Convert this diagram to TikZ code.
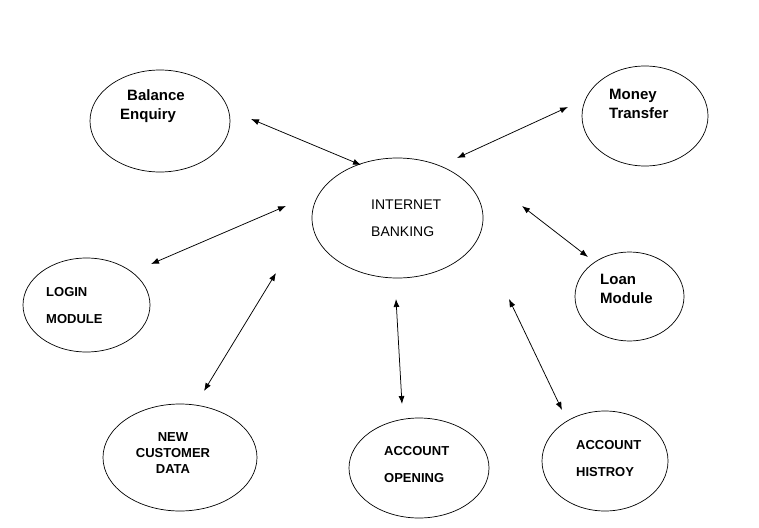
\documentclass[tikz,border=0pt]{standalone}
\usepackage{fontspec}
\setmainfont{Liberation Sans}
\usetikzlibrary{shapes.geometric, arrows.meta}

\begin{document}
\begin{tikzpicture}[x=1pt, y=-1pt,
	bubble/.style={ellipse, draw=black, line width=0.7pt, inner sep=0pt},
	link/.style={black, line width=0.75pt, <->, >={Latex[length=8pt, width=6pt]}},
	bigtxt/.style={anchor=base west, align=left, inner sep=0pt, font=\fontsize{15}{19}\selectfont\bfseries},
	captxt/.style={anchor=base west, align=left, inner sep=0pt, font=\fontsize{13}{27}\selectfont\bfseries}]
	\useasboundingbox (0,0) rectangle (759,527);
	\node[bubble, minimum width=140pt, minimum height=102pt] (balance) at (160,121) {};
	\node[bubble, minimum width=126pt, minimum height=100pt] (money) at (645,116) {};
	\node[bubble, minimum width=171pt, minimum height=120pt] (banking) at (397.5,218) {};
	\node[bubble, minimum width=127pt, minimum height=94pt] (login) at (86.5,305) {};
	\node[bubble, minimum width=109pt, minimum height=89pt] (loan) at (629.5,296.5) {};
	\node[bubble, minimum width=154pt, minimum height=107pt] (newcust) at (180,457.5) {};
	\node[bubble, minimum width=140pt, minimum height=100pt] (opening) at (419,468) {};
	\node[bubble, minimum width=126pt, minimum height=100pt] (history) at (605,461) {};
	\node[bigtxt] (balance-t) at (120,119) {\hspace*{7pt}Balance\\Enquiry};
	\node[bigtxt] (money-t) at (609,118) {Money\\Transfer};
	\node[bigtxt] (loan-t) at (600,303) {Loan\\Module};
	\node[captxt, font=\fontsize{14}{27}\selectfont] (banking-t) at (371,236) {INTERNET\\BANKING};
	\node[captxt] (login-t) at (46,323) {LOGIN\\MODULE};
	\node[captxt, anchor=base, align=center, font=\fontsize{13}{16}\selectfont\bfseries] (newcust-t) at (173,473) {NEW\\CUSTOMER\\DATA};
	\node[captxt] (opening-t) at (384,482) {ACCOUNT\\OPENING};
	\node[captxt] (history-t) at (576,476) {ACCOUNT\\HISTROY};
	\coordinate (b1) at (251,119); \coordinate (b2) at (361,165);
	\coordinate (m1) at (457,158); \coordinate (m2) at (568,107);
	\coordinate (l1) at (522,206); \coordinate (l2) at (588,257);
	\coordinate (g1) at (286,206); \coordinate (g2) at (151,264);
	\coordinate (n1) at (276,273); \coordinate (n2) at (204,391);
	\coordinate (o1) at (396,299); \coordinate (o2) at (402,404);
	\coordinate (h1) at (509,299); \coordinate (h2) at (562,410);
	\draw[link] (b1) -- (b2);
	\draw[link] (m1) -- (m2);
	\draw[link] (l1) -- (l2);
	\draw[link] (g1) -- (g2);
	\draw[link] (n1) -- (n2);
	\draw[link] (o1) -- (o2);
	\draw[link] (h1) -- (h2);
\end{tikzpicture}
\end{document}
